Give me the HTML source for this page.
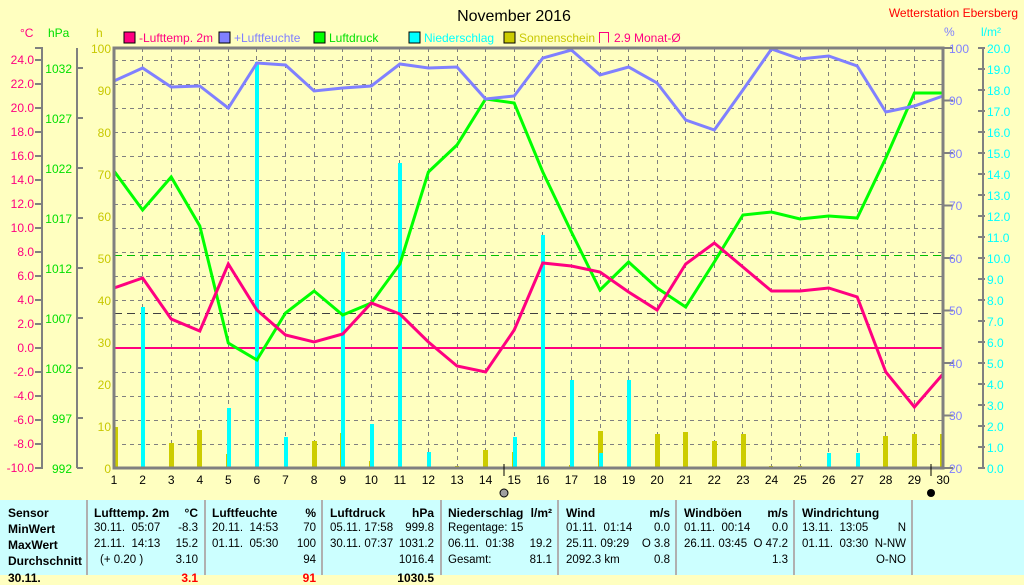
<!DOCTYPE html>
<html><head><meta charset="utf-8"><style>
body{margin:0;width:1024px;height:575px;overflow:hidden;background:#ffffc0;font-family:"Liberation Sans",sans-serif}
svg{position:absolute;left:0;top:0}
#tbl{position:absolute;left:0;top:500px;width:1024px;height:75px;background:#ccffff;font-size:11.5px}
.col{position:absolute;top:0;height:75px;border-right:2px solid #b0b0b0}
.r{position:absolute;white-space:nowrap}
b{font-weight:bold;font-size:12px}
</style></head><body>
<svg width="1024" height="500" font-family="Liberation Sans, sans-serif">
<text x="514" y="21" font-size="16" text-anchor="middle">November 2016</text>
<text x="1018" y="17" font-size="12" fill="#ff0000" text-anchor="end">Wetterstation Ebersberg</text>
<g font-size="12">
<text x="20" y="37" fill="#ff0080">°C</text><text x="48" y="37" fill="#00e000">hPa</text><text x="96" y="37" fill="#c8c800">h</text>
<text x="944" y="36" fill="#8080ff">%</text><text x="981" y="36" fill="#00ffff">l/m²</text>
<rect x="124" y="32" width="11" height="11" fill="#ff0080" stroke="#000"/><text x="139" y="42" fill="#ff0080">-Lufttemp. 2m</text>
<rect x="219" y="32" width="11" height="11" fill="#8080ff" stroke="#000"/><text x="234" y="42" fill="#8080ff">+Luftfeuchte</text>
<rect x="314" y="32" width="11" height="11" fill="#00ff00" stroke="#000"/><text x="329" y="42" fill="#00e000">Luftdruck</text>
<rect x="409" y="32" width="11" height="11" fill="#00ffff" stroke="#000"/><text x="424" y="42" fill="#00ffff">Niederschlag</text>
<rect x="504" y="32" width="11" height="11" fill="#cccc00" stroke="#000"/><text x="519" y="42" fill="#c8c800">Sonnenschein</text>
<path d="M599.5 43V32.5h9v10" fill="none" stroke="#ff0080"/><text x="614" y="42" fill="#ff0080">2.9 Monat-Ø</text>
</g>
<!-- grid -->
<g stroke="#808080" stroke-dasharray="4,4" stroke-width="1">
<path d="M114 60.5H943M114 84.5H943M114 108.5H943M114 132.5H943M114 156.5H943M114 180.5H943M114 204.5H943M114 228.5H943M114 252.5H943M114 276.5H943M114 300.5H943M114 324.5H943M114 348.5H943M114 372.5H943M114 396.5H943M114 420.5H943M114 444.5H943"/>
<path d="M142.5 48V468M171.5 48V468M199.5 48V468M228.5 48V468M256.5 48V468M285.5 48V468M314.5 48V468M342.5 48V468M371.5 48V468M399.5 48V468M428.5 48V468M457.5 48V468M485.5 48V468M514.5 48V468M542.5 48V468M571.5 48V468M600.5 48V468M628.5 48V468M657.5 48V468M685.5 48V468M714.5 48V468M742.5 48V468M771.5 48V468M800.5 48V468M828.5 48V468M857.5 48V468M885.5 48V468M914.5 48V468"/>
</g>
<!-- left axes -->
<g stroke="#808080" stroke-width="2" fill="none">
<path d="M35 48H42V468H35M42 60H35M42 84H35M42 108H35M42 132H35M42 156H35M42 180H35M42 204H35M42 228H35M42 252H35M42 276H35M42 300H35M42 324H35M42 348H35M42 372H35M42 396H35M42 420H35M42 444H35"/>
<path d="M77 48V468M77 68H83M77 118H83M77 168H83M77 218H83M77 268H83M77 318H83M77 368H83M77 418H83M77 468H83"/>
<path d="M983 48V468M978 48H985M978 69H985M978 90H985M978 111H985M978 132H985M978 153H985M978 174H985M978 195H985M978 216H985M978 237H985M978 258H985M978 279H985M978 300H985M978 321H985M978 342H985M978 363H985M978 384H985M978 405H985M978 426H985M978 447H985M978 468H985"/>
<path d="M943 48H953M943 100.5H953M943 153H953M943 205.5H953M943 258H953M943 310.5H953M943 363H953M943 415.5H953M943 468H953"/>
</g>
<g font-size="12" fill="#ff0080" text-anchor="end">
<text x="34" y="64">24.0</text><text x="34" y="88">22.0</text><text x="34" y="112">20.0</text><text x="34" y="136">18.0</text><text x="34" y="160">16.0</text><text x="34" y="184">14.0</text><text x="34" y="208">12.0</text><text x="34" y="232">10.0</text><text x="34" y="256">8.0</text><text x="34" y="280">6.0</text><text x="34" y="304">4.0</text><text x="34" y="328">2.0</text><text x="34" y="352">0.0</text><text x="34" y="376">-2.0</text><text x="34" y="400">-4.0</text><text x="34" y="424">-6.0</text><text x="34" y="448">-8.0</text><text x="34" y="472">-10.0</text>
</g>
<g font-size="12" fill="#00e000" text-anchor="end">
<text x="72" y="73">1032</text><text x="72" y="123">1027</text><text x="72" y="173">1022</text><text x="72" y="223">1017</text><text x="72" y="273">1012</text><text x="72" y="323">1007</text><text x="72" y="373">1002</text><text x="72" y="423">997</text><text x="72" y="473">992</text>
</g>
<g font-size="12" fill="#c8c800" text-anchor="end">
<text x="111" y="53">100</text><text x="111" y="95">90</text><text x="111" y="137">80</text><text x="111" y="179">70</text><text x="111" y="221">60</text><text x="111" y="263">50</text><text x="111" y="305">40</text><text x="111" y="347">30</text><text x="111" y="389">20</text><text x="111" y="431">10</text><text x="111" y="473">0</text>
</g>
<g font-size="12" fill="#8080ff">
<text x="949" y="53">100</text><text x="949" y="105">90</text><text x="949" y="158">80</text><text x="949" y="210">70</text><text x="949" y="263">60</text><text x="949" y="315">50</text><text x="949" y="368">40</text><text x="949" y="420">30</text><text x="949" y="473">20</text>
</g>
<g font-size="12" fill="#00ffff">
<text x="987" y="53">20.0</text><text x="987" y="74">19.0</text><text x="987" y="95">18.0</text><text x="987" y="116">17.0</text><text x="987" y="137">16.0</text><text x="987" y="158">15.0</text><text x="987" y="179">14.0</text><text x="987" y="200">13.0</text><text x="987" y="221">12.0</text><text x="987" y="242">11.0</text><text x="987" y="263">10.0</text><text x="987" y="284">9.0</text><text x="987" y="305">8.0</text><text x="987" y="326">7.0</text><text x="987" y="347">6.0</text><text x="987" y="368">5.0</text><text x="987" y="389">4.0</text><text x="987" y="410">3.0</text><text x="987" y="431">2.0</text><text x="987" y="452">1.0</text><text x="987" y="473">0.0</text>
</g>
<!-- reference lines -->
<path d="M114 255.5H943" stroke="#00c000" stroke-dasharray="8,5"/>
<path d="M114 313.5H943" stroke="#404040" stroke-dasharray="8,5"/>
<path d="M114 348H943" stroke="#ff0080" stroke-width="2"/>
<!-- sunshine bars -->
<g fill="#cccc00">
<rect x="114" y="427" width="4" height="41"/><rect x="169" y="443" width="5" height="25"/><rect x="197" y="430" width="5" height="38"/><rect x="226" y="454" width="4" height="14"/><rect x="312" y="441" width="5" height="27"/><rect x="340" y="433" width="4" height="35"/><rect x="369" y="461" width="4" height="7"/><rect x="455" y="466" width="4" height="2"/><rect x="483" y="450" width="5" height="18"/><rect x="512" y="452" width="4" height="16"/><rect x="569" y="465" width="4" height="3"/><rect x="598" y="431" width="5" height="37"/><rect x="655" y="434" width="5" height="34"/><rect x="683" y="432" width="5" height="36"/><rect x="712" y="441" width="5" height="27"/><rect x="741" y="434" width="5" height="34"/><rect x="769" y="466" width="4" height="2"/><rect x="798" y="466" width="4" height="2"/><rect x="883" y="436" width="5" height="32"/><rect x="912" y="434" width="5" height="34"/><rect x="940" y="434" width="3" height="34"/>
</g>
<!-- rain bars -->
<g fill="#00ffff">
<rect x="141" y="307" width="4" height="161"/><rect x="227" y="408" width="4" height="60"/><rect x="255" y="62" width="4" height="406"/><rect x="284" y="437" width="4" height="31"/><rect x="341" y="252" width="4" height="216"/><rect x="370" y="424" width="4" height="44"/><rect x="398" y="163" width="4" height="305"/><rect x="427" y="452" width="4" height="16"/><rect x="513" y="437" width="4" height="31"/><rect x="541" y="235" width="4" height="233"/><rect x="570" y="380" width="4" height="88"/><rect x="599" y="453" width="4" height="15"/><rect x="627" y="380" width="4" height="88"/><rect x="827" y="453" width="4" height="15"/><rect x="856" y="453" width="4" height="15"/>
</g>
<!-- series -->
<polyline fill="none" stroke="#00ff00" stroke-width="3" points="114,171 142.6,210 171.2,177 199.8,226 228.3,343 256.9,360 285.5,313 314.1,291 342.7,315 371.3,303 399.9,264 428.4,172 457,145 485.6,99 514.2,103 542.8,172 571.4,232 600,290 628.6,262 657.1,288 685.7,307 714.3,262 742.9,215 771.5,212 800.1,219 828.7,216 857.2,218 885.8,158 914.4,93 943,93"/>
<polyline fill="none" stroke="#8080ff" stroke-width="3" points="114,81 142.6,68 171.2,87 199.8,86 228.3,108 256.9,63 285.5,65 314.1,91 342.7,88 371.3,86 399.9,64 428.4,68 457,67 485.6,99 514.2,96 542.8,58 571.4,50 600,75 628.6,67 657.1,83 685.7,120 714.3,130 742.9,90 771.5,49 800.1,59 828.7,56 857.2,66 885.8,112 914.4,106 943,96"/>
<polyline fill="none" stroke="#ff0080" stroke-width="3" points="114,288 142.6,278 171.2,319 199.8,331 228.3,264 256.9,310 285.5,335 314.1,342 342.7,334 371.3,303 399.9,314 428.4,342 457,366 485.6,372 514.2,330 542.8,263 571.4,266 600,272 628.6,292 657.1,310 685.7,264 714.3,243 742.9,267 771.5,291 800.1,291 828.7,288 857.2,297 885.8,372 914.4,407 943,374"/>
<!-- frame -->
<path d="M114 48V468H943V48Z" fill="none" stroke="#808080" stroke-width="3"/>
<g font-size="12" text-anchor="middle">
<text x="114" y="484">1</text><text x="142.6" y="484">2</text><text x="171.2" y="484">3</text><text x="199.8" y="484">4</text><text x="228.3" y="484">5</text><text x="256.9" y="484">6</text><text x="285.5" y="484">7</text><text x="314.1" y="484">8</text><text x="342.7" y="484">9</text><text x="371.3" y="484">10</text><text x="399.9" y="484">11</text><text x="428.4" y="484">12</text><text x="457" y="484">13</text><text x="485.6" y="484">14</text><text x="514.2" y="484">15</text><text x="542.8" y="484">16</text><text x="571.4" y="484">17</text><text x="600" y="484">18</text><text x="628.6" y="484">19</text><text x="657.1" y="484">20</text><text x="685.7" y="484">21</text><text x="714.3" y="484">22</text><text x="742.9" y="484">23</text><text x="771.5" y="484">24</text><text x="800.1" y="484">25</text><text x="828.7" y="484">26</text><text x="857.2" y="484">27</text><text x="885.8" y="484">28</text><text x="914.4" y="484">29</text><text x="943" y="484">30</text>
</g>
<path d="M504 464V476M931 464V476" stroke="#000"/>
<circle cx="504" cy="493" r="4" fill="#a0a0a0" stroke="#000"/>
<circle cx="931" cy="493" r="4" fill="#000"/>
</svg>
<div id="tbl">
<div class="col" style="left:0;width:86px"></div>
<div class="col" style="left:88px;width:116px"></div>
<div class="col" style="left:206px;width:115px"></div>
<div class="col" style="left:323px;width:117px"></div>
<div class="col" style="left:442px;width:115px"></div>
<div class="col" style="left:559px;width:116px"></div>
<div class="col" style="left:677px;width:116px"></div>
<div class="col" style="left:795px;width:116px"></div>
<div class="r" style="left:8px;top:6px"><b>Sensor</b></div>
<div class="r" style="left:8px;top:22px"><b>MinWert</b></div>
<div class="r" style="left:8px;top:38px"><b>MaxWert</b></div>
<div class="r" style="left:8px;top:54px"><b>Durchschnitt</b></div>
<div class="r" style="left:8px;top:71px"><b>30.11.</b></div>
<div class="r" style="left:94px;top:6px"><b>Lufttemp. 2m</b></div><div class="r" style="right:826px;top:6px"><b>°C</b></div>
<div class="r" style="left:94px;top:22px">30.11.&nbsp; 05:07</div><div class="r" style="right:826px;top:22px">-8.3</div>
<div class="r" style="left:94px;top:38px">21.11.&nbsp; 14:13</div><div class="r" style="right:826px;top:38px">15.2</div>
<div class="r" style="left:100px;top:54px">(+ 0.20 )</div><div class="r" style="right:826px;top:54px">3.10</div>
<div class="r" style="right:826px;top:71px;color:#f00"><b>3.1</b></div>
<div class="r" style="left:212px;top:6px"><b>Luftfeuchte</b></div><div class="r" style="right:708px;top:6px"><b>%</b></div>
<div class="r" style="left:212px;top:22px">20.11.&nbsp; 14:53</div><div class="r" style="right:708px;top:22px">70</div>
<div class="r" style="left:212px;top:38px">01.11.&nbsp; 05:30</div><div class="r" style="right:708px;top:38px">100</div>
<div class="r" style="right:708px;top:54px">94</div>
<div class="r" style="right:708px;top:71px;color:#f00"><b>91</b></div>
<div class="r" style="left:330px;top:6px"><b>Luftdruck</b></div><div class="r" style="right:590px;top:6px"><b>hPa</b></div>
<div class="r" style="left:330px;top:22px">05.11.&nbsp;17:58</div><div class="r" style="right:590px;top:22px">999.8</div>
<div class="r" style="left:330px;top:38px">30.11.&nbsp;07:37</div><div class="r" style="right:590px;top:38px">1031.2</div>
<div class="r" style="right:590px;top:54px">1016.4</div>
<div class="r" style="right:590px;top:71px"><b>1030.5</b></div>
<div class="r" style="left:448px;top:6px"><b>Niederschlag</b></div><div class="r" style="right:472px;top:6px"><b>l/m²</b></div>
<div class="r" style="left:448px;top:22px">Regentage: 15</div>
<div class="r" style="left:448px;top:38px">06.11.&nbsp; 01:38</div><div class="r" style="right:472px;top:38px">19.2</div>
<div class="r" style="left:448px;top:54px">Gesamt:</div><div class="r" style="right:472px;top:54px">81.1</div>
<div class="r" style="left:566px;top:6px"><b>Wind</b></div><div class="r" style="right:354px;top:6px"><b>m/s</b></div>
<div class="r" style="left:566px;top:22px">01.11.&nbsp; 01:14</div><div class="r" style="right:354px;top:22px">0.0</div>
<div class="r" style="left:566px;top:38px">25.11.&nbsp;09:29</div><div class="r" style="right:354px;top:38px">O 3.8</div>
<div class="r" style="left:566px;top:54px">2092.3 km</div><div class="r" style="right:354px;top:54px">0.8</div>
<div class="r" style="left:684px;top:6px"><b>Windböen</b></div><div class="r" style="right:236px;top:6px"><b>m/s</b></div>
<div class="r" style="left:684px;top:22px">01.11.&nbsp; 00:14</div><div class="r" style="right:236px;top:22px">0.0</div>
<div class="r" style="left:684px;top:38px">26.11.&nbsp;03:45</div><div class="r" style="right:236px;top:38px">O 47.2</div>
<div class="r" style="right:236px;top:54px">1.3</div>
<div class="r" style="left:802px;top:6px"><b>Windrichtung</b></div>
<div class="r" style="left:802px;top:22px">13.11.&nbsp; 13:05</div><div class="r" style="right:118px;top:22px">N</div>
<div class="r" style="left:802px;top:38px">01.11.&nbsp; 03:30</div><div class="r" style="right:118px;top:38px">N-NW</div>
<div class="r" style="right:118px;top:54px">O-NO</div>
</div>
</body></html>
